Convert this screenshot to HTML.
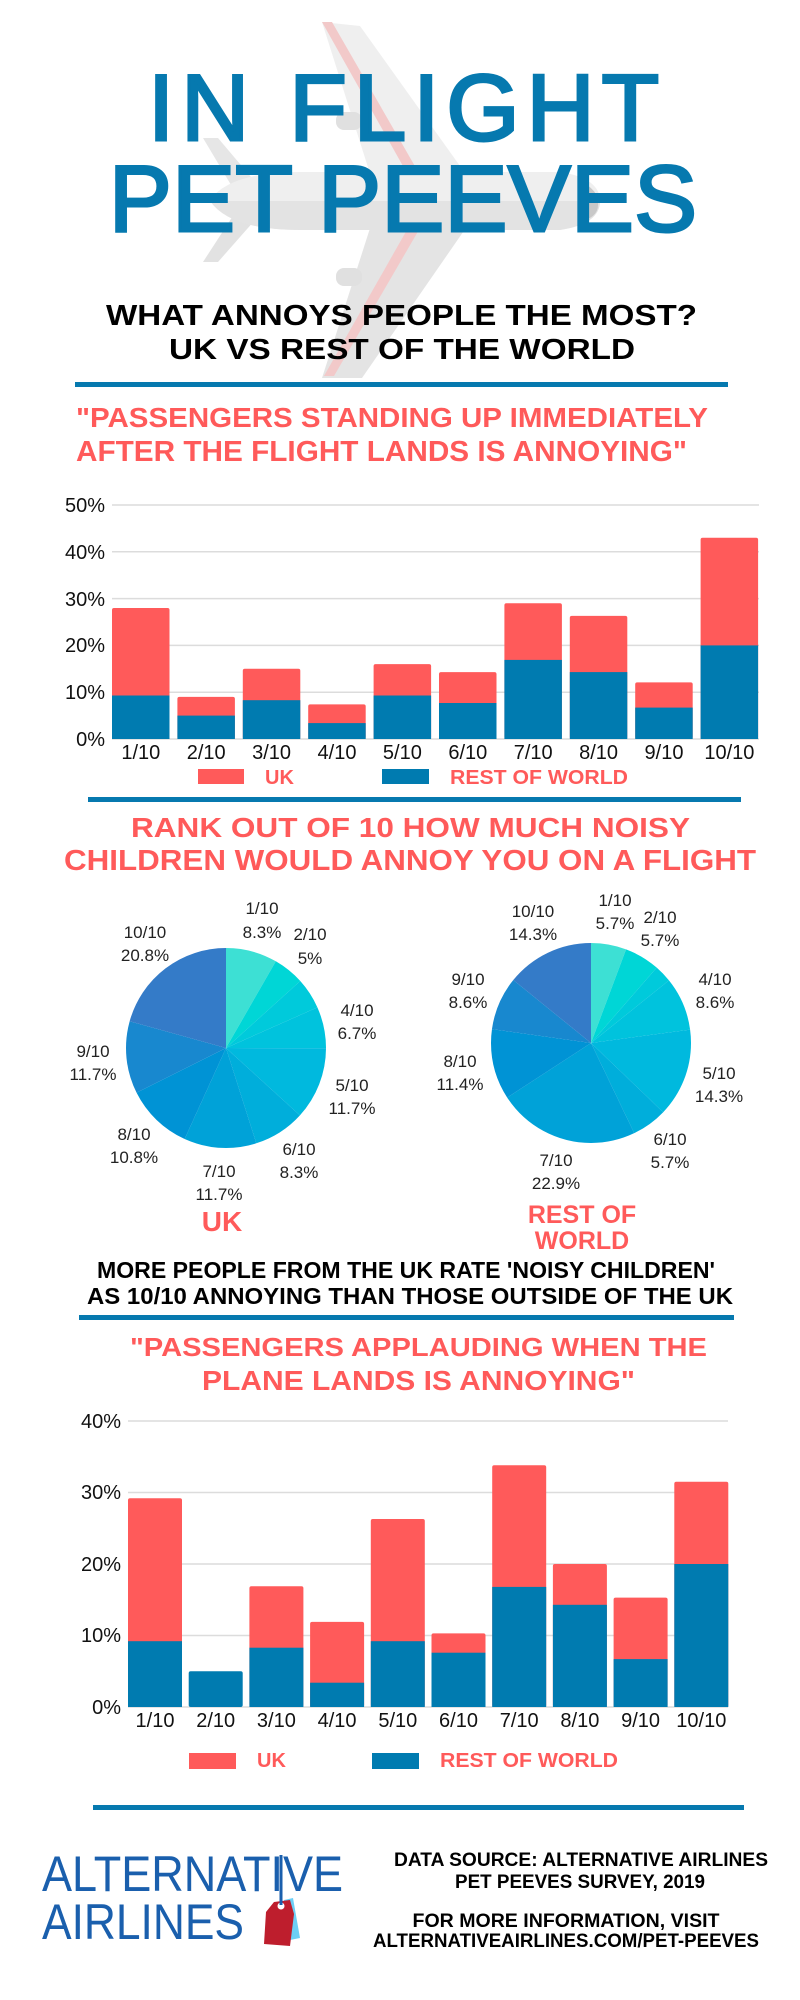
<!DOCTYPE html>
<html><head><meta charset="utf-8"><style>
html,body{margin:0;padding:0;background:#fff;}
svg{display:block;}
.h{font-family:"Liberation Sans",sans-serif;font-weight:bold;}
.r{font-family:"Liberation Sans",sans-serif;}
</style></head><body>
<svg width="800" height="2000" viewBox="0 0 800 2000" xmlns="http://www.w3.org/2000/svg">
<rect width="800" height="2000" fill="#fff"/>
<!-- plane -->
<g>
<polygon points="322,22 360,26 470,180 372,180" fill="#efefef"/>
<polygon points="322,22 332,22 420,175 408,175" fill="#f2c9c9"/>
<polygon points="372,222 470,222 362,378 322,378" fill="#e4e4e4"/>
<polygon points="408,228 420,228 334,376 324,376" fill="#f2c9c9"/>
<polygon points="203,138 218,138 262,190 240,200" fill="#e6e6e6"/>
<polygon points="240,205 262,212 218,262 203,262" fill="#e2e2e2"/>
<path d="M210,200 Q230,172 300,172 L560,172 Q600,178 600,201 Q600,224 560,230 L300,230 Q230,230 210,200 Z" fill="#efefef"/>
<path d="M210,201 L600,201 Q600,224 560,230 L300,230 Q230,230 210,201 Z" fill="#e3e3e3"/>
<path d="M578,180 Q600,190 598,205 Q598,218 578,222 Q584,201 578,180 Z" fill="#c8c8c8"/>
<rect x="336" y="112" width="26" height="18" rx="8" fill="#e0e0e0"/>
<rect x="336" y="268" width="26" height="18" rx="8" fill="#e0e0e0"/>
</g>
<!-- title -->
<text class="r" x="148" y="140" font-size="94" fill="#0679af" stroke="#0679af" stroke-width="3" textLength="511" lengthAdjust="spacing">IN FLIGHT</text>
<text class="r" x="109" y="231" font-size="94" fill="#0679af" stroke="#0679af" stroke-width="3" textLength="588" lengthAdjust="spacing">PET PEEVES</text>
<text class="h" x="106" y="325" font-size="29" fill="#000" textLength="591" lengthAdjust="spacingAndGlyphs">WHAT ANNOYS PEOPLE THE MOST?</text>
<text class="h" x="169" y="359" font-size="29" fill="#000" textLength="466" lengthAdjust="spacingAndGlyphs">UK VS REST OF THE WORLD</text>
<rect x="75" y="382" width="653" height="5" fill="#0679af"/>
<text class="h" x="76" y="427" font-size="28" fill="#ff5a5a" textLength="632" lengthAdjust="spacingAndGlyphs">"PASSENGERS STANDING UP IMMEDIATELY</text>
<text class="h" x="76" y="461" font-size="29" fill="#ff5a5a" textLength="611" lengthAdjust="spacingAndGlyphs">AFTER THE FLIGHT LANDS IS ANNOYING"</text>
<!-- chart 1 -->
<g stroke="#dcdcdc" stroke-width="1.5">
<line x1="112" y1="505" x2="759" y2="505"/><line x1="112" y1="551.8" x2="759" y2="551.8"/><line x1="112" y1="598.6" x2="759" y2="598.6"/><line x1="112" y1="645.4" x2="759" y2="645.4"/><line x1="112" y1="692.2" x2="759" y2="692.2"/><line x1="112" y1="739" x2="759" y2="739"/>
</g>
<g class="r" font-size="20" fill="#111" text-anchor="end">
<text x="105" y="512">50%</text><text x="105" y="559">40%</text><text x="105" y="606">30%</text><text x="105" y="652">20%</text><text x="105" y="699">10%</text><text x="105" y="746">0%</text>
</g>
<g fill="#ff5a5a">
<rect x="112" y="608" width="57.5" height="131" rx="2"/>
<rect x="177.4" y="696.9" width="57.5" height="42.1" rx="2"/>
<rect x="242.8" y="668.8" width="57.5" height="70.2" rx="2"/>
<rect x="308.2" y="704.4" width="57.5" height="34.6" rx="2"/>
<rect x="373.6" y="664.1" width="57.5" height="74.9" rx="2"/>
<rect x="439" y="672.1" width="57.5" height="66.9" rx="2"/>
<rect x="504.4" y="603.3" width="57.5" height="135.7" rx="2"/>
<rect x="569.8" y="615.9" width="57.5" height="123.1" rx="2"/>
<rect x="635.2" y="682.4" width="57.5" height="56.6" rx="2"/>
<rect x="700.6" y="537.8" width="57.5" height="201.2" rx="2"/>
</g>
<g fill="#007bb0">
<rect x="112" y="695.5" width="57.5" height="43.5"/>
<rect x="177.4" y="715.6" width="57.5" height="23.4"/>
<rect x="242.8" y="700.2" width="57.5" height="38.8"/>
<rect x="308.2" y="723.1" width="57.5" height="15.9"/>
<rect x="373.6" y="695.5" width="57.5" height="43.5"/>
<rect x="439" y="703" width="57.5" height="36"/>
<rect x="504.4" y="659.9" width="57.5" height="79.1"/>
<rect x="569.8" y="672.1" width="57.5" height="66.9"/>
<rect x="635.2" y="707.6" width="57.5" height="31.4"/>
<rect x="700.6" y="645.4" width="57.5" height="93.6"/>
</g>
<g class="r" font-size="20" fill="#111" text-anchor="middle">
<text x="140.8" y="759">1/10</text><text x="206.2" y="759">2/10</text><text x="271.6" y="759">3/10</text><text x="337" y="759">4/10</text><text x="402.4" y="759">5/10</text><text x="467.8" y="759">6/10</text><text x="533.2" y="759">7/10</text><text x="598.6" y="759">8/10</text><text x="664" y="759">9/10</text><text x="729.4" y="759">10/10</text>
</g>
<rect x="198" y="769" width="46" height="15" fill="#ff5a5a"/>
<text class="h" x="265" y="784" font-size="20" fill="#ff5a5a">UK</text>
<rect x="382" y="769" width="47" height="15" fill="#007bb0"/>
<text class="h" x="450" y="784" font-size="20" fill="#ff5a5a" textLength="178" lengthAdjust="spacingAndGlyphs">REST OF WORLD</text>
<rect x="88" y="797" width="653" height="5" fill="#0679af"/>
<!-- pies -->
<text class="h" x="131" y="837" font-size="28" fill="#ff5a5a" textLength="559" lengthAdjust="spacingAndGlyphs">RANK OUT OF 10 HOW MUCH NOISY</text>
<text class="h" x="64" y="870" font-size="29" fill="#ff5a5a" textLength="692" lengthAdjust="spacingAndGlyphs">CHILDREN WOULD ANNOY YOU ON A FLIGHT</text>
<g transform="translate(226,1048) rotate(-90)" fill="none" stroke-width="100">
<circle r="50" stroke="#3de0d4" stroke-dasharray="26.08 400" stroke-dashoffset="0"/>
<circle r="50" stroke="#00d6d6" stroke-dasharray="15.71 400" stroke-dashoffset="-26.08"/>
<circle r="50" stroke="#00cadb" stroke-dasharray="15.71 400" stroke-dashoffset="-41.79"/>
<circle r="50" stroke="#00c3dd" stroke-dasharray="21.05 400" stroke-dashoffset="-57.5"/>
<circle r="50" stroke="#00b9de" stroke-dasharray="36.76 400" stroke-dashoffset="-78.55"/>
<circle r="50" stroke="#00aedb" stroke-dasharray="26.08 400" stroke-dashoffset="-115.31"/>
<circle r="50" stroke="#00a2d8" stroke-dasharray="36.76 400" stroke-dashoffset="-141.39"/>
<circle r="50" stroke="#0093d5" stroke-dasharray="33.93 400" stroke-dashoffset="-178.15"/>
<circle r="50" stroke="#1888cf" stroke-dasharray="36.76 400" stroke-dashoffset="-212.08"/>
<circle r="50" stroke="#347bc8" stroke-dasharray="65.35 400" stroke-dashoffset="-248.84"/>
</g>
<g transform="translate(591,1043) rotate(-90)" fill="none" stroke-width="100">
<circle r="50" stroke="#3de0d4" stroke-dasharray="17.91 400" stroke-dashoffset="0"/>
<circle r="50" stroke="#00d6d6" stroke-dasharray="17.91 400" stroke-dashoffset="-17.91"/>
<circle r="50" stroke="#00cadb" stroke-dasharray="8.8 400" stroke-dashoffset="-35.82"/>
<circle r="50" stroke="#00c3dd" stroke-dasharray="27.02 400" stroke-dashoffset="-44.62"/>
<circle r="50" stroke="#00b9de" stroke-dasharray="44.93 400" stroke-dashoffset="-71.64"/>
<circle r="50" stroke="#00aedb" stroke-dasharray="17.91 400" stroke-dashoffset="-116.57"/>
<circle r="50" stroke="#00a2d8" stroke-dasharray="71.94 400" stroke-dashoffset="-134.48"/>
<circle r="50" stroke="#0093d5" stroke-dasharray="35.81 400" stroke-dashoffset="-206.42"/>
<circle r="50" stroke="#1888cf" stroke-dasharray="27.02 400" stroke-dashoffset="-242.23"/>
<circle r="50" stroke="#347bc8" stroke-dasharray="44.93 400" stroke-dashoffset="-269.25"/>
</g>
<g class="r" font-size="17" fill="#222" text-anchor="middle">
<text x="262" y="914">1/10</text><text x="262" y="938">8.3%</text>
<text x="310" y="940">2/10</text><text x="310" y="964">5%</text>
<text x="357" y="1016">4/10</text><text x="357" y="1039">6.7%</text>
<text x="352" y="1091">5/10</text><text x="352" y="1114">11.7%</text>
<text x="299" y="1155">6/10</text><text x="299" y="1178">8.3%</text>
<text x="219" y="1177">7/10</text><text x="219" y="1200">11.7%</text>
<text x="134" y="1140">8/10</text><text x="134" y="1163">10.8%</text>
<text x="93" y="1057">9/10</text><text x="93" y="1080">11.7%</text>
<text x="145" y="938">10/10</text><text x="145" y="961">20.8%</text>
<text x="615" y="906">1/10</text><text x="615" y="929">5.7%</text>
<text x="660" y="923">2/10</text><text x="660" y="946">5.7%</text>
<text x="715" y="985">4/10</text><text x="715" y="1008">8.6%</text>
<text x="719" y="1079">5/10</text><text x="719" y="1102">14.3%</text>
<text x="670" y="1145">6/10</text><text x="670" y="1168">5.7%</text>
<text x="556" y="1166">7/10</text><text x="556" y="1189">22.9%</text>
<text x="460" y="1067">8/10</text><text x="460" y="1090">11.4%</text>
<text x="468" y="985">9/10</text><text x="468" y="1008">8.6%</text>
<text x="533" y="917">10/10</text><text x="533" y="940">14.3%</text>
</g>
<text class="h" x="222" y="1231" font-size="28" fill="#ff5a5a" text-anchor="middle">UK</text>
<text class="h" x="582" y="1223" font-size="25" fill="#ff5a5a" text-anchor="middle">REST OF</text>
<text class="h" x="582" y="1249" font-size="25" fill="#ff5a5a" text-anchor="middle">WORLD</text>
<text class="h" x="97" y="1278" font-size="23" fill="#000" textLength="618" lengthAdjust="spacingAndGlyphs">MORE PEOPLE FROM THE UK RATE 'NOISY CHILDREN'</text>
<text class="h" x="87" y="1304" font-size="23" fill="#000" textLength="646" lengthAdjust="spacingAndGlyphs">AS 10/10 ANNOYING THAN THOSE OUTSIDE OF THE UK</text>
<rect x="79" y="1315" width="655" height="5" fill="#0679af"/>
<!-- chart 2 -->
<text class="h" x="130" y="1356" font-size="26" fill="#ff5a5a" textLength="577" lengthAdjust="spacingAndGlyphs">"PASSENGERS APPLAUDING WHEN THE</text>
<text class="h" x="202" y="1390" font-size="28" fill="#ff5a5a" textLength="433" lengthAdjust="spacingAndGlyphs">PLANE LANDS IS ANNOYING"</text>
<g stroke="#dcdcdc" stroke-width="1.5">
<line x1="128" y1="1421" x2="728" y2="1421"/><line x1="128" y1="1492.5" x2="728" y2="1492.5"/><line x1="128" y1="1564" x2="728" y2="1564"/><line x1="128" y1="1635.5" x2="728" y2="1635.5"/><line x1="128" y1="1707" x2="728" y2="1707"/>
</g>
<g class="r" font-size="20" fill="#111" text-anchor="end">
<text x="121" y="1428">40%</text><text x="121" y="1499">30%</text><text x="121" y="1571">20%</text><text x="121" y="1642">10%</text><text x="121" y="1714">0%</text>
</g>
<g fill="#ff5a5a">
<rect x="128" y="1498.2" width="54" height="208.8" rx="2"/>
<rect x="249.4" y="1586.2" width="54" height="120.8" rx="2"/>
<rect x="310.1" y="1621.9" width="54" height="85.1" rx="2"/>
<rect x="370.8" y="1519" width="54" height="188" rx="2"/>
<rect x="431.5" y="1633.4" width="54" height="73.6" rx="2"/>
<rect x="492.2" y="1465.3" width="54" height="241.7" rx="2"/>
<rect x="552.9" y="1564" width="54" height="143" rx="2"/>
<rect x="613.6" y="1597.6" width="54" height="109.4" rx="2"/>
<rect x="674.3" y="1481.8" width="54" height="225.2" rx="2"/>
</g>
<g fill="#007bb0">
<rect x="128" y="1641.2" width="54" height="65.8"/>
<rect x="188.7" y="1671.2" width="54" height="35.8" rx="2"/>
<rect x="249.4" y="1647.7" width="54" height="59.3"/>
<rect x="310.1" y="1682.7" width="54" height="24.3"/>
<rect x="370.8" y="1641.2" width="54" height="65.8"/>
<rect x="431.5" y="1652.7" width="54" height="54.3"/>
<rect x="492.2" y="1586.9" width="54" height="120.1"/>
<rect x="552.9" y="1604.8" width="54" height="102.2"/>
<rect x="613.6" y="1659.1" width="54" height="47.9"/>
<rect x="674.3" y="1564" width="54" height="143"/>
</g>
<g class="r" font-size="20" fill="#111" text-anchor="middle">
<text x="155" y="1727">1/10</text><text x="215.7" y="1727">2/10</text><text x="276.4" y="1727">3/10</text><text x="337.1" y="1727">4/10</text><text x="397.8" y="1727">5/10</text><text x="458.5" y="1727">6/10</text><text x="519.2" y="1727">7/10</text><text x="579.9" y="1727">8/10</text><text x="640.6" y="1727">9/10</text><text x="701.3" y="1727">10/10</text>
</g>
<rect x="189" y="1753" width="47" height="16" fill="#ff5a5a"/>
<text class="h" x="257" y="1767" font-size="20" fill="#ff5a5a">UK</text>
<rect x="372" y="1753" width="47" height="16" fill="#007bb0"/>
<text class="h" x="440" y="1767" font-size="20" fill="#ff5a5a" textLength="178" lengthAdjust="spacingAndGlyphs">REST OF WORLD</text>
<rect x="93" y="1805" width="651" height="5" fill="#0679af"/>
<!-- logo -->
<text class="r" x="42" y="1891" font-size="50" fill="#1a5fad" textLength="301" lengthAdjust="spacingAndGlyphs">ALTERNATIVE</text>
<text class="r" x="42" y="1939" font-size="50" fill="#1a5fad" textLength="202" lengthAdjust="spacingAndGlyphs">AIRLINES</text>
<polygon points="284,1900 293,1898 300,1938 290,1940" fill="#6ccff6"/>
<polygon points="274,1902 290,1900 294,1914 290,1946 264,1944 266,1912" fill="#be1e2d"/>
<circle cx="281" cy="1906" r="3.5" fill="#fff"/>
<rect x="279.5" y="1855" width="3" height="50" fill="#1a5fad"/>
<!-- footer -->
<g class="h" font-size="19" fill="#000" text-anchor="middle">
<text x="581" y="1866" textLength="374" lengthAdjust="spacingAndGlyphs">DATA SOURCE: ALTERNATIVE AIRLINES</text>
<text x="580" y="1888" textLength="250" lengthAdjust="spacingAndGlyphs">PET PEEVES SURVEY, 2019</text>
<text x="566" y="1927" textLength="307" lengthAdjust="spacingAndGlyphs">FOR MORE INFORMATION, VISIT</text>
<text x="566" y="1947" textLength="386" lengthAdjust="spacingAndGlyphs">ALTERNATIVEAIRLINES.COM/PET-PEEVES</text>
</g>
</svg>
</body></html>
